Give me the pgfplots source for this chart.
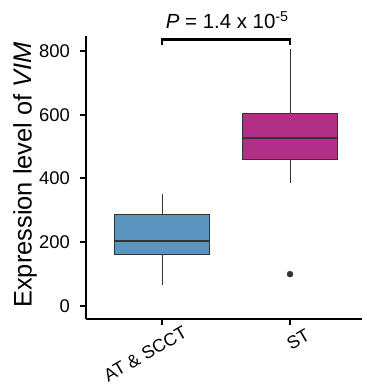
\documentclass[border=0pt]{standalone}
\usepackage{fontspec}
\setmainfont{Liberation Sans}
\usepackage{pgfplots}
\pgfplotsset{compat=1.18}
\definecolor{boxblue}{HTML}{5B94BF}
\definecolor{boxmag}{HTML}{B12F86}
\definecolor{edge}{HTML}{333333}
\begin{document}
\begin{tikzpicture}
\path[use as bounding box] (-86bp,-73bp) rectangle (281bp,319bp);
\begin{axis}[
  at={(0bp,0bp)}, anchor=south west,
  scale only axis, width=276bp, height=283bp,
  xmin=0.406, xmax=2.5625, ymin=-40.8, ymax=847,
  clip=false,
  axis lines=left, axis line style={line width=2.5bp, -},
  xtick={1,2}, xticklabels={{AT \& SCCT\kern-6bp}, ST},
  ytick={0,200,400,600,800},
  tick align=outside, major tick length=6bp,
  tick style={line width=2bp, black},
  /pgf/number format/assume math mode=true,
  yticklabel style={font=\fontsize{18.5}{19}\selectfont, anchor=east, inner sep=0pt, xshift=-10bp},
  xticklabel style={font=\fontsize{18}{18}\selectfont, anchor=north east, inner sep=0pt, xshift=15bp, yshift=-3bp, rotate=30},
  ylabel={Expression level of \textit{VIM}},
  ylabel style={font=\fontsize{25.5}{26}\selectfont, at={(axis description cs:-0.197,0.509)}, anchor=base},
]
% AT & SCCT: whiskers, box, median
\addplot[edge, line width=0.8bp, forget plot] coordinates {(1,67) (1,163)};
\addplot[edge, line width=0.8bp, forget plot] coordinates {(1,288) (1,351)};
\addplot[fill=boxblue, draw=edge, line width=1bp, forget plot] coordinates {(0.63,163) (1.37,163) (1.37,288) (0.63,288)} -- cycle;
\addplot[edge, line width=2bp, forget plot] coordinates {(0.63,205) (1.37,205)};
% ST
\addplot[edge, line width=0.8bp, forget plot] coordinates {(2,386) (2,458)};
\addplot[edge, line width=0.8bp, forget plot] coordinates {(2,605) (2,806)};
\addplot[fill=boxmag, draw=edge, line width=1bp, forget plot] coordinates {(1.63,458) (2.37,458) (2.37,605) (1.63,605)} -- cycle;
\addplot[edge, line width=2bp, forget plot] coordinates {(1.63,527) (2.37,527)};
\addplot[only marks, mark=*, mark size=3bp, mark options={fill=edge, draw=edge}, forget plot] coordinates {(2,100)};
\draw[line width=2.5bp, line join=miter] (axis cs:1,819) |- (axis cs:2,836) -- (axis cs:2,819);
\node[font=\fontsize{20.5}{21}\selectfont, anchor=base, inner sep=0pt] at (axis cs:1.51,870) {\textit{P} = 1.4 x 10\textsuperscript{-5}};
\end{axis}
\end{tikzpicture}
\end{document}
